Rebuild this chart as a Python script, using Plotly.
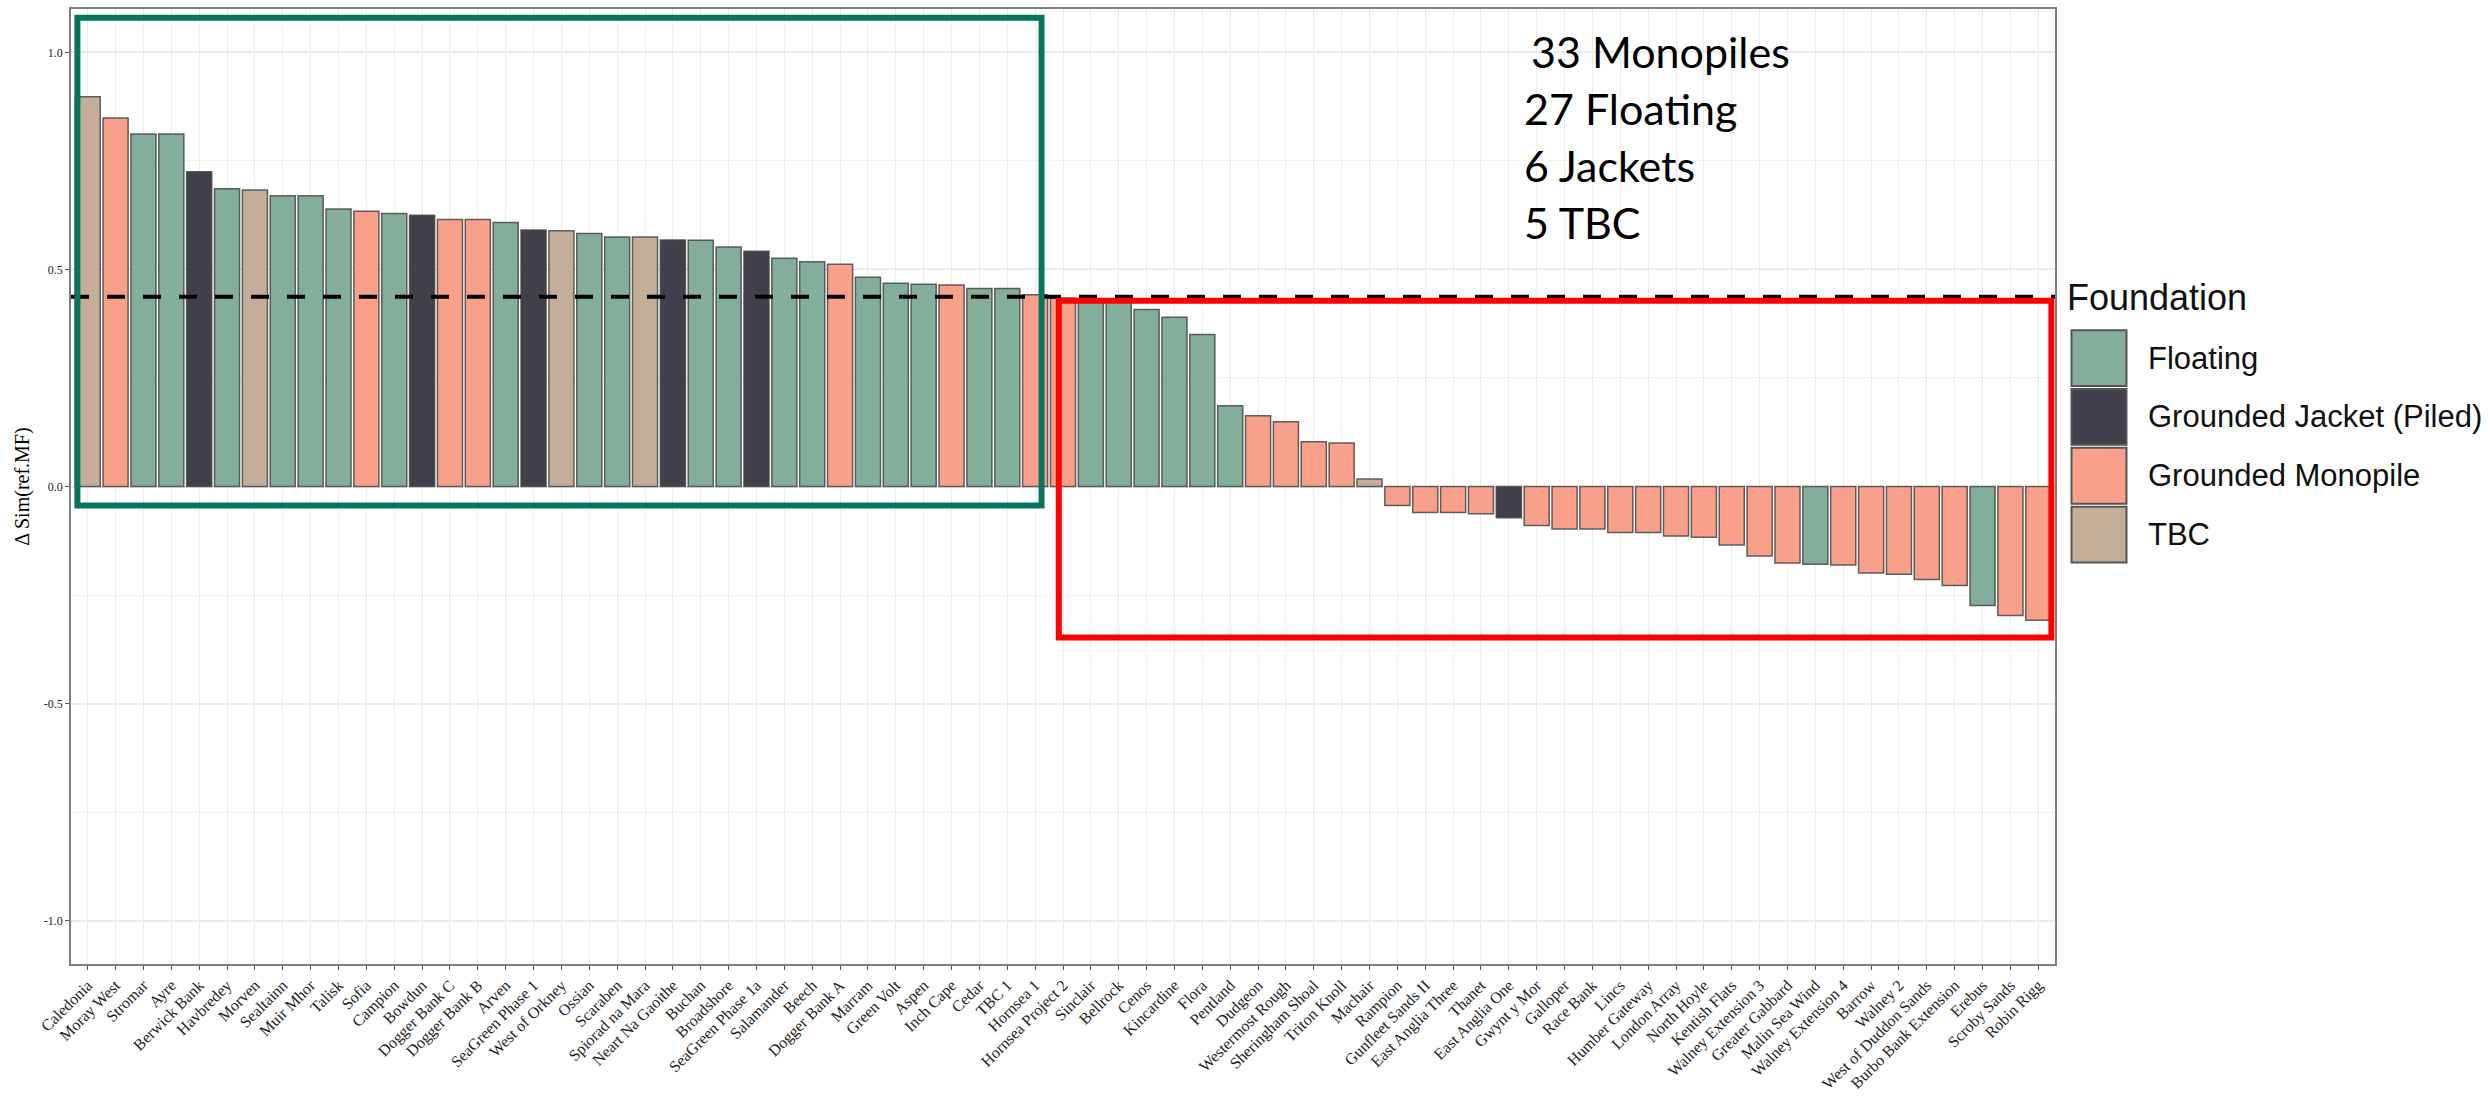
import plotly.graph_objects as go
from collections import Counter

# Offshore wind sites, sorted by change in similarity
sites = [
    "Caledonia", "Moray West", "Stromar", "Ayre", "Berwick Bank", "Havbredey", "Morven",
    "Sealtainn", "Muir Mhor", "Talisk", "Sofia", "Campion", "Bowdun", "Dogger Bank C",
    "Dogger Bank B", "Arven", "SeaGreen Phase 1", "West of Orkney", "Ossian", "Scaraben",
    "Spiorad na Mara", "Neart Na Gaoithe", "Buchan", "Broadshore", "SeaGreen Phase 1a",
    "Salamander", "Beech", "Dogger Bank A", "Marram", "Green Volt", "Aspen", "Inch Cape",
    "Cedar", "TBC 1", "Hornsea 1", "Hornsea Project 2", "Sinclair", "Bellrock", "Cenos",
    "Kincardine", "Flora", "Pentland", "Dudgeon", "Westermost Rough", "Sheringham Shoal",
    "Triton Knoll", "Machair", "Rampion", "Gunfleet Sands II", "East Anglia Three", "Thanet",
    "East Anglia One", "Gwynt y Mor", "Galloper", "Race Bank", "Lincs", "Humber Gateway",
    "London Array", "North Hoyle", "Kentish Flats", "Walney Extension 3", "Greater Gabbard",
    "Malin Sea Wind", "Walney Extension 4", "Barrow", "Walney 2", "West of Duddon Sands",
    "Burbo Bank Extension", "Erebus", "Scroby Sands", "Robin Rigg",
]

delta_sim = [
    0.898, 0.849, 0.812, 0.812, 0.725, 0.686, 0.683, 0.670, 0.670, 0.639,
    0.634, 0.629, 0.625, 0.615, 0.615, 0.608, 0.591, 0.589, 0.583, 0.575,
    0.575, 0.568, 0.567, 0.552, 0.542, 0.526, 0.518, 0.512, 0.482, 0.468,
    0.466, 0.464, 0.456, 0.456, 0.442, 0.434, 0.430, 0.425, 0.408, 0.390,
    0.350, 0.186, 0.163, 0.149, 0.103, 0.100, 0.017, -0.044, -0.060, -0.060,
    -0.063, -0.072, -0.090, -0.098, -0.098, -0.106, -0.106, -0.114, -0.117, -0.135,
    -0.160, -0.176, -0.179, -0.181, -0.199, -0.202, -0.214, -0.228, -0.274, -0.297,
    -0.308,
]

FL, JK, MP, TB = "Floating", "Grounded Jacket (Piled)", "Grounded Monopile", "TBC"
foundation = [
    TB, MP, FL, FL, JK, FL, TB, FL, FL, FL,
    MP, FL, JK, MP, MP, FL, JK, TB, FL, FL,
    TB, JK, FL, FL, JK, FL, FL, MP, FL, FL,
    FL, MP, FL, FL, MP, MP, FL, FL, FL, FL,
    FL, FL, MP, MP, MP, MP, TB, MP, MP, MP,
    MP, JK, MP, MP, MP, MP, MP, MP, MP, MP,
    MP, MP, FL, MP, MP, MP, MP, MP, FL, MP,
    MP,
]

foundation_levels = [FL, JK, MP, TB]
foundation_colors = {FL: "#82AE9B", JK: "#41404A", MP: "#F9A08A", TB: "#C4AE9A"}
summary_names = {MP: "Monopiles", FL: "Floating", JK: "Jackets", TB: "TBC"}
summary_order = [MP, FL, JK, TB]

threshold = 0.437

# Panel geometry in pixels (used to place the hand-drawn legend and notes)
W, H = 2489, 1099
PL, PR, PT, PB = 71, 2055.5, 7, 964.5


def px(x):
    return (x - PL) / (PR - PL)


def py(y):
    return (PB - y) / (PB - PT)


fig = go.Figure()
fig.add_trace(go.Bar(
    x=sites,
    y=delta_sim,
    marker=dict(color=[foundation_colors[f] for f in foundation],
                line=dict(color="rgba(70,70,70,0.85)", width=1.5)),
    width=0.9,
    showlegend=False,
    hovertemplate="%{x}: %{y:.3f}<extra></extra>",
))

shapes = []
# dashed reference line across the panel
shapes.append(dict(type="line", xref="paper", yref="y", x0=0, x1=1, y0=threshold, y1=threshold,
                   line=dict(color="black", width=4, dash="18px,18px"), layer="above"))
# highlight boxes
shapes.append(dict(type="rect", xref="x", yref="y", x0=-0.37, x1=34.23, y0=-0.044, y1=1.080,
                   line=dict(color="#08745C", width=6), fillcolor="rgba(0,0,0,0)", layer="above"))
shapes.append(dict(type="rect", xref="x", yref="y", x0=34.85, x1=70.47, y0=-0.348, y1=0.428,
                   line=dict(color="#FF0000", width=6), fillcolor="rgba(0,0,0,0)", layer="above"))

annotations = []
# legend
annotations.append(dict(text="Foundation", xref="paper", yref="paper", x=px(2066), y=py(296),
                        xanchor="left", yanchor="middle", showarrow=False,
                        font=dict(family="Liberation Sans", size=36, color="#111")))
key_top = 329
for i, lvl in enumerate(foundation_levels):
    y0 = key_top + i * 59
    shapes.append(dict(type="rect", xref="paper", yref="paper",
                       x0=px(2072), x1=px(2127), y0=py(y0 + 56), y1=py(y0),
                       fillcolor=foundation_colors[lvl],
                       line=dict(color="#555555", width=2)))
    annotations.append(dict(text=lvl, xref="paper", yref="paper", x=px(2147), y=py(y0 + 28),
                            xanchor="left", yanchor="middle", showarrow=False,
                            font=dict(family="Liberation Sans", size=31, color="#111")))

# foundation counts
counts = Counter(foundation)
for i, lvl in enumerate(summary_order):
    annotations.append(dict(text=f"{counts[lvl]} {summary_names[lvl]}", xref="paper", yref="paper",
                            x=px(1522 if i else 1529), y=py(50 + i * 57),
                            xanchor="left", yanchor="middle", showarrow=False,
                            font=dict(family="Lato", size=43, color="#000")))

# y axis title
annotations.append(dict(text="Δ Sim(ref.MF)", xref="paper", yref="paper", x=px(23), y=py(486),
                        xanchor="center", yanchor="middle", textangle=-90, showarrow=False,
                        font=dict(family="Liberation Serif", size=20, color="#000")))

fig.update_layout(
    width=W, height=H,
    margin=dict(l=PL, r=W - PR, t=PT, b=H - PB, pad=0),
    paper_bgcolor="white", plot_bgcolor="white",
    bargap=0.1,
    shapes=shapes,
    annotations=annotations,
    font=dict(family="Liberation Serif", color="#222"),
)

fig.update_xaxes(
    type="category", categoryorder="array", categoryarray=sites,
    range=[-0.6, len(sites) - 0.4],
    tickangle=-45, tickfont=dict(family="Liberation Serif", size=16, color="#222"),
    ticks="outside", ticklen=4, tickcolor="#555",
    showgrid=True, gridcolor="#EBEBEB", gridwidth=1,
    showline=True, linecolor="#7F7F7F", linewidth=1.5, mirror=True,
    zeroline=False,
)
fig.update_yaxes(
    range=[-1.1, 1.1], tickmode="array", tickvals=[-1.0, -0.5, 0.0, 0.5, 1.0],
    ticktext=["-1.0", "-0.5", "0.0", "0.5", "1.0"],
    tickfont=dict(family="Liberation Serif", size=12, color="#222"),
    ticks="outside", ticklen=4, tickcolor="#555",
    showgrid=True, gridcolor="#EBEBEB", gridwidth=1.5,
    minor=dict(tickvals=[-0.75, -0.25, 0.25, 0.75], showgrid=True, gridcolor="#F3F3F3", gridwidth=1),
    showline=True, linecolor="#7F7F7F", linewidth=1.5, mirror=True,
    zeroline=False,
)

fig.write_html("out.html")
